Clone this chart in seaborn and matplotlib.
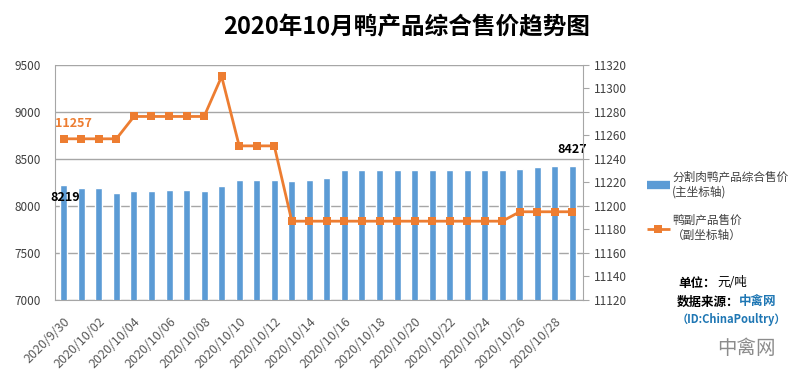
import numpy as np
import seaborn as sns
import matplotlib.pyplot as plt
from matplotlib.lines import Line2D

# ---------------------------
# Data
# ---------------------------

dates = [
    "2020/9/30", "2020/10/01", "2020/10/02", "2020/10/03", "2020/10/04",
    "2020/10/05", "2020/10/06", "2020/10/07", "2020/10/08", "2020/10/09",
    "2020/10/10", "2020/10/11", "2020/10/12", "2020/10/13", "2020/10/14",
    "2020/10/15", "2020/10/16", "2020/10/17", "2020/10/18", "2020/10/19",
    "2020/10/20", "2020/10/21", "2020/10/22", "2020/10/23", "2020/10/24",
    "2020/10/25", "2020/10/26", "2020/10/27", "2020/10/28", "2020/10/29",
]

meat_price = [
    8219, 8190, 8190, 8142, 8160, 8160, 8170, 8170, 8160, 8206,
    8280, 8280, 8280, 8266, 8280, 8300, 8376, 8376, 8376, 8376,
    8376, 8376, 8376, 8376, 8376, 8376, 8387, 8408, 8427, 8427,
]

byproduct_price = [
    11257, 11257, 11257, 11257, 11276, 11276, 11276, 11276, 11276, 11310,
    11251, 11251, 11251, 11187, 11187, 11187, 11187, 11187, 11187, 11187,
    11187, 11187, 11187, 11187, 11187, 11187, 11195, 11195, 11195, 11195,
]

left_ticks = [7000, 7500, 8000, 8500, 9000, 9500]
right_ticks = [11120, 11140, 11160, 11180, 11200, 11220, 11240, 11260, 11280, 11300, 11320]

# ---------------------------
# Style
# ---------------------------

sns.set_style("white")
plt.rcParams["font.family"] = ["Noto Sans CJK SC", "DejaVu Sans"]

blue = "#5B9BD5"
orange = "#ED7D31"
grid_gray = "#A6A6A6"
text_gray = "#404040"

fig = plt.figure(figsize=(7.99, 3.83), dpi=100)
ax = fig.add_axes([55 / 799, 1 - 300 / 383, 528 / 799, 235.3 / 383])

# ---------------------------
# Bars (primary axis)
# ---------------------------

sns.barplot(x=dates, y=meat_price, ax=ax, color=blue, saturation=1, width=0.4)

ax.set_ylim(7000, 9500)
ax.set_yticks(left_ticks)
ax.set_xlim(-0.5, 29.6)
ax.set_axisbelow(True)
ax.yaxis.grid(True, color=grid_gray, linewidth=1)
ax.tick_params(axis="y", length=0, labelsize=8.5, labelcolor=text_gray, pad=10)
ax.tick_params(axis="x", length=0, labelsize=9, labelcolor="#595959", pad=11)

ax.set_xticks(range(0, len(dates), 2))
ax.set_xticklabels(dates[::2], rotation=45, ha="right", rotation_mode="anchor")
for lbl in ax.get_xticklabels():
    lbl.set_x(lbl.get_position()[0])
ax.set_xlabel("")
ax.set_ylabel("")

for side in ["top", "right"]:
    ax.spines[side].set_visible(False)
for side in ["left", "bottom"]:
    ax.spines[side].set_color(grid_gray)

# ---------------------------
# Line (secondary axis)
# ---------------------------

ax2 = ax.twinx()
sns.lineplot(x=np.arange(len(dates)), y=byproduct_price, ax=ax2, color=orange,
             linewidth=2, marker="s", markersize=6, markeredgewidth=0)

ax2.set_ylim(11120, 11320)
ax2.set_yticks(right_ticks)
ax2.set_xlim(-0.5, 29.6)
ax2.tick_params(axis="y", direction="out", length=4, color=grid_gray,
                labelsize=8.5, labelcolor=text_gray, pad=4)
ax2.set_ylabel("")
ax2.set_xlabel("")
for side in ["top", "left", "bottom"]:
    ax2.spines[side].set_visible(False)
ax2.spines["right"].set_color(grid_gray)

# ---------------------------
# Data labels
# ---------------------------

ax2.annotate(str(byproduct_price[0]), xy=(0, byproduct_price[0]), xytext=(7, 11),
             textcoords="offset points", ha="center", va="center",
             color=orange, fontsize=9, fontweight="bold")
ax.annotate(str(meat_price[0]), xy=(0, meat_price[0]), xytext=(1, -9),
            textcoords="offset points", ha="center", va="center",
            color="black", fontsize=9, fontweight="bold")
ax.annotate(str(meat_price[-1]), xy=(len(dates) - 1, meat_price[-1]), xytext=(0, 12),
            textcoords="offset points", ha="center", va="center",
            color="black", fontsize=9, fontweight="bold")

# ---------------------------
# Title, legend, notes
# ---------------------------

fig.text(407 / 799, 1 - 27 / 383, "2020年10月鸭产品综合售价趋势图",
         ha="center", va="center", fontsize=17, fontweight="bold", color="black")

handles = [
    Line2D([], [], color=blue, linewidth=6, solid_capstyle="butt"),
    Line2D([], [], color=orange, linewidth=2, marker="s", markersize=6,
           markeredgewidth=0, solid_capstyle="butt"),
]
labels = ["分割肉鸭产品综合售价\n(主坐标轴)", "鸭副产品售价\n（副坐标轴）"]
fig.legend(handles, labels, loc="upper left", bbox_to_anchor=(636 / 799, 1 - 160 / 383),
           frameon=False, fontsize=8.4, handlelength=2.0, handletextpad=0.2,
           labelspacing=1.3, labelcolor=text_gray)

fig.text(678 / 799, 1 - 283 / 383, "单位：", ha="left", va="center",
         fontsize=9, fontweight="bold", color="black")
fig.text(717 / 799, 1 - 283 / 383, "元/吨", ha="left", va="center",
         fontsize=9, color="black")
fig.text(677 / 799, 1 - 302 / 383, "数据来源：", ha="left", va="center",
         fontsize=9, fontweight="bold", color="black")
fig.text(739 / 799, 1 - 302 / 383, "中禽网", ha="left", va="center",
         fontsize=9, fontweight="bold", color="#1F77B4")
fig.text(731 / 799, 1 - 319 / 383, "（ID:ChinaPoultry）", ha="center", va="center",
         fontsize=8, fontweight="bold", color="#1F77B4")
fig.text(746 / 799, 1 - 348 / 383, "中禽网", ha="center", va="center",
         fontsize=14, color="#8C8C8C")

fig.savefig("out.png", dpi=100)
